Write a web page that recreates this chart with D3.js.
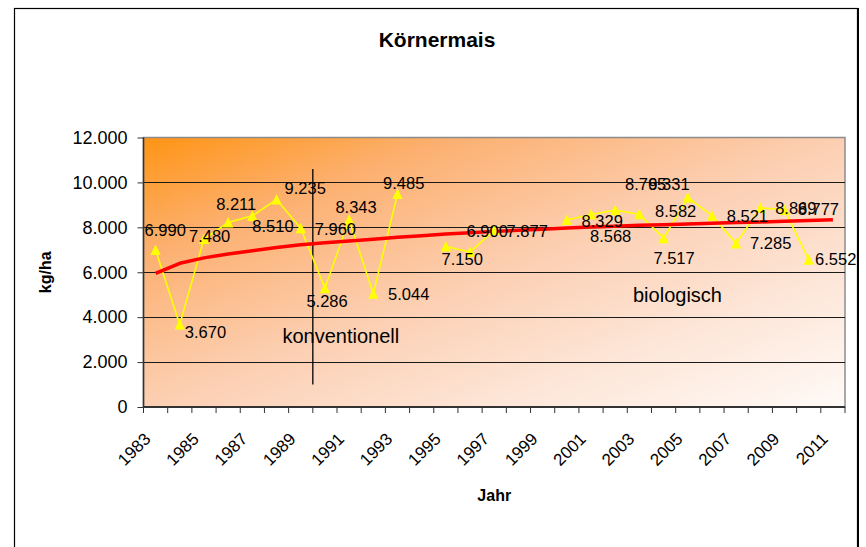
<!DOCTYPE html>
<html>
<head>
<meta charset="utf-8">
<script src="https://cdn.jsdelivr.net/npm/d3@7"></script>
<style>
  body { margin: 0; background: #fff; }
  svg { display: block; font-family: "Liberation Sans", Arial, sans-serif; }
</style>
</head>
<body>
<svg width="866" height="547"></svg>
<script>
// Körnermais, kg/ha per year
const years = d3.range(1983, 2012).map(String);
const yields = [6990, 3670, 7480, 8211, 8510, 9235, 7960, 5286, 8343, 5044, 9485, null,
  7150, 6900, 7877, null, null, 8329, 8568, 8765, 8582, 7517, 9331, 8521, 7285, 8869,
  8777, 6552, null];
// trend line
const trend = [5950, 6400, 6640, 6810, 6960, 7100, 7220, 7310, 7390, 7470, 7560, 7630,
  7700, 7760, 7820, 7870, 7920, 7970, 8010, 8050, 8090, 8120, 8150, 8180, 8210, 8240,
  8270, 8300, 8340];
const yTicks = [0, 2000, 4000, 6000, 8000, 10000, 12000];
const xLabelYears = years.filter((d, i) => i % 2 === 0);

// where each value label sits relative to its point (text start, baseline)
const labelOffsets = [[-11, -14], [5, 13], [-15, 3], [-12, -13], [0, 16], [8, -6], [14, 7],
  [-18.5, 18.6], [-13.7, -6.6], [14.8, 5.8], [-14.4, -5.3], null, [-4.3, 19], [-3.5, -15],
  [12.3, 7], null, null, [14.8, 7], [-1, 27.5], [9.8, -19.8], [15.6, 2.5], [-10.2, 25.4],
  [-39.4, -7.1], [14.8, 6.4], [13.9, 5.9], [14.8, 5.9], [13.2, 5.5], [6.4, 5.4], null];

const svg = d3.select('svg');
const fmt = d3.formatLocale({ decimal: ',', thousands: '.', grouping: [3], currency: ['', '€'] }).format(',d');

const margin = { top: 137.5, right: 21, bottom: 140, left: 143.5 };
const width = 866, height = 547;

const xScale = d3.scaleBand()
  .domain(years)
  .range([margin.left, width - margin.right])
  .padding(0);
const bw = xScale.bandwidth();
const xc = d => xScale(d) + bw / 2;

const yScale = d3.scaleLinear()
  .domain([0, 12000])
  .range([height - margin.bottom, margin.top]);

// outer frame
svg.append('rect')
  .attr('x', 14.5).attr('y', 8.5)
  .attr('width', 843).attr('height', 600)
  .attr('fill', '#fff').attr('stroke', '#000').attr('stroke-width', 1.2);
svg.append('line')
  .attr('x1', 858).attr('x2', 858).attr('y1', 8).attr('y2', 547)
  .attr('stroke', '#000').attr('stroke-width', 2);

// plot background gradient
const defs = svg.append('defs');
const grad = defs.append('linearGradient')
  .attr('id', 'bg').attr('x1', 0).attr('y1', 0).attr('x2', 1).attr('y2', 1);
[[0, '#ff9414'], [0.22, '#fcb070'], [0.5, '#fccfb2'], [0.75, '#fde6d8'], [1, '#fffaf7']]
  .forEach(([o, c]) => grad.append('stop').attr('offset', o).attr('stop-color', c));

const [x0, x1] = xScale.range();
const [yb, yt] = yScale.range();
svg.append('rect')
  .attr('x', x0).attr('y', yt)
  .attr('width', x1 - x0).attr('height', yb - yt)
  .attr('fill', 'url(#bg)')
  .attr('stroke', '#8c8c8c').attr('stroke-width', 1.5);

// gridlines
svg.append('g').selectAll('line')
  .data(yTicks.filter(d => d > 0 && d < 12000))
  .enter().append('line')
    .attr('x1', x0).attr('x2', x1)
    .attr('y1', d => Math.round(yScale(d)) + 0.5)
    .attr('y2', d => Math.round(yScale(d)) + 0.5)
    .attr('stroke', '#1a1a1a').attr('stroke-width', 1);

// y axis
const yAxis = svg.append('g')
  .attr('transform', `translate(${x0}, 0)`)
  .call(d3.axisLeft(yScale).tickValues(yTicks).tickSize(6).tickPadding(10).tickFormat(fmt));
yAxis.select('.domain').remove();
yAxis.selectAll('line').attr('stroke', '#333');
yAxis.selectAll('text')
  .attr('font-size', 18).attr('font-family', '"Liberation Sans", Arial, sans-serif')
  .attr('fill', '#000');
svg.append('line')
  .attr('x1', x0).attr('x2', x0).attr('y1', yt).attr('y2', yb)
  .attr('stroke', '#333').attr('stroke-width', 1.5);

// x axis: ticks between categories, labels on every other year
svg.append('g').selectAll('line')
  .data(years.map(d => xScale(d)).concat([x1]))
  .enter().append('line')
    .attr('x1', d => d).attr('x2', d => d)
    .attr('y1', yb).attr('y2', yb + 6)
    .attr('stroke', '#333');
svg.append('line')
  .attr('x1', x0).attr('x2', x1).attr('y1', yb).attr('y2', yb)
  .attr('stroke', '#333').attr('stroke-width', 2);

const xAxis = svg.append('g')
  .attr('transform', `translate(0, ${yb})`)
  .call(d3.axisBottom(xScale).tickValues(xLabelYears).tickSize(0));
xAxis.select('.domain').remove();
xAxis.selectAll('text')
  .attr('font-size', 17).attr('font-family', '"Liberation Sans", Arial, sans-serif')
  .attr('fill', '#000')
  .attr('text-anchor', 'end')
  .attr('x', 0).attr('y', 0).attr('dy', 0)
  .attr('transform', 'translate(-4, 33) rotate(-45)');

// axis titles
svg.append('text')
  .attr('x', width / 2 + 4).attr('y', 47)
  .attr('text-anchor', 'middle')
  .attr('font-size', 21).attr('font-weight', 'bold')
  .text('Körnermais');
svg.append('text')
  .attr('x', (x0 + x1) / 2).attr('y', 501)
  .attr('text-anchor', 'middle')
  .attr('font-size', 16).attr('font-weight', 'bold')
  .text('Jahr');
svg.append('text')
  .attr('transform', `translate(51, ${(yt + yb) / 2}) rotate(-90)`)
  .attr('text-anchor', 'middle')
  .attr('font-size', 16).attr('font-weight', 'bold')
  .text('kg/ha');

// divider conventional / organic
svg.append('line')
  .attr('x1', xScale('1990')).attr('x2', xScale('1990'))
  .attr('y1', yScale(10600)).attr('y2', yScale(1000))
  .attr('stroke', '#000').attr('stroke-width', 1.3);
svg.append('text')
  .attr('x', xScale('1990') + 28).attr('y', yScale(2850))
  .attr('text-anchor', 'middle').attr('font-size', 20)
  .text('konventionell');
svg.append('text')
  .attr('x', xScale('2004') + 26).attr('y', yScale(4675))
  .attr('text-anchor', 'middle').attr('font-size', 20)
  .text('biologisch');

// yield series
const series = years.map((d, i) => ({ year: d, value: yields[i], off: labelOffsets[i] }));

const line = d3.line()
  .defined(d => d.value != null)
  .x(d => xc(d.year))
  .y(d => yScale(d.value));
svg.append('path')
  .datum(series)
  .attr('d', line)
  .attr('fill', 'none')
  .attr('stroke', '#ffff00').attr('stroke-width', 1.6);

// trend
const trendLine = d3.line()
  .x((d, i) => xc(years[i]))
  .y(d => yScale(d));
svg.append('path')
  .datum(trend)
  .attr('d', trendLine)
  .attr('fill', 'none')
  .attr('stroke', '#ff0000').attr('stroke-width', 3.5)
  .attr('stroke-linejoin', 'round');

// markers
svg.append('g').selectAll('path')
  .data(series.filter(d => d.value != null))
  .enter().append('path')
    .attr('transform', d => `translate(${xc(d.year)}, ${yScale(d.value)})`)
    .attr('d', 'M0,-5.5L5.2,5L-5.2,5Z')
    .attr('fill', '#ffff00');

// value labels
svg.append('g').selectAll('text')
  .data(series.filter(d => d.value != null))
  .enter().append('text')
    .attr('x', d => xc(d.year) + d.off[0])
    .attr('y', d => yScale(d.value) + d.off[1])
    .attr('font-size', 16.5)
    .attr('fill', '#000')
    .text(d => fmt(d.value));
</script>
</body>
</html>
